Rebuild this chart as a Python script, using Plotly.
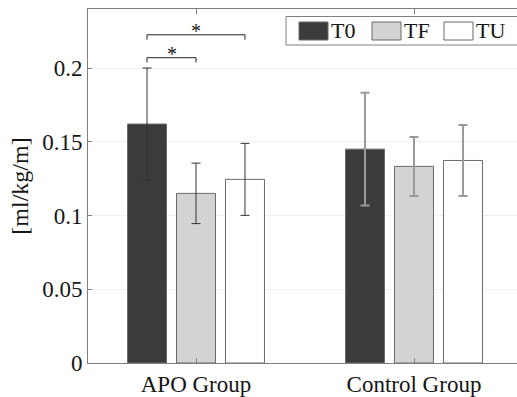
import plotly.graph_objects as go

groups = ["APO Group", "Control Group"]
series = ["T0", "TF", "TU"]
means = {
    "T0": [0.162, 0.145],
    "TF": [0.115, 0.1333],
    "TU": [0.1245, 0.1373],
}
errors = {
    "T0": [0.038, 0.0383],
    "TF": [0.0205, 0.020],
    "TU": [0.0244, 0.024],
}
y_ticks = [0, 0.05, 0.1, 0.15, 0.2]
y_tick_labels = ["0", "0.05", "0.1", "0.15", "0.2"]
# significance: (series a, series b, bracket level, star)
sig_pairs = [("T0", "TF", 0.207, "*"), ("T0", "TU", 0.2225, "*")]

fill = {"T0": "#3b3b3b", "TF": "#d3d3d3", "TU": "#ffffff"}
err_style = [("#333333", 1.0, 4.5), ("#9a9a9a", 2.0, 4.5)]

W, H = 517, 397
ML, MR, MT, MB = 88, 0, 9, 34
FONT = "Liberation Serif, Times New Roman, DejaVu Serif, serif"
TXT = "#151515"
bargap, bargroupgap = 0.326, 0.204

fig = go.Figure()
for gi, g in enumerate(groups):
    ecol, ew, cw = err_style[gi]
    for s in series:
        fig.add_trace(go.Bar(
            x=[g], y=[means[s][gi]], name=s, offsetgroup=s,
            marker=dict(color=fill[s], line=dict(color="#6a6a6a", width=1)),
            error_y=dict(type="data", array=[errors[s][gi]], color=ecol,
                         thickness=ew, width=cw),
            showlegend=False,
        ))

slot = (1 - bargap) / len(series)
def bar_x(gi, s):
    return gi + (series.index(s) - (len(series) - 1) / 2) * slot

shapes = []
annotations = []
for a, b, lvl, star in sig_pairs:
    xa, xb = bar_x(0, a), bar_x(0, b)
    drop = 0.0033
    shapes.append(dict(type="path", xref="x", yref="y",
                       path=f"M {xa},{lvl-drop} L {xa},{lvl} L {xb},{lvl} L {xb},{lvl-drop}",
                       line=dict(color="#222222", width=1)))
    annotations.append(dict(x=(xa + xb) / 2, y=lvl, xref="x", yref="y",
                            text=star, showarrow=False, yanchor="bottom",
                            yshift=-9,
                            font=dict(family=FONT, size=20, color=TXT)))

# custom legend (pixel positions converted to paper coords)
pw, ph = W - ML - MR, H - MT - MB
def px(x):
    return (x - ML) / pw
def py(y):
    return 1 - (y - MT) / ph

shapes.append(dict(type="rect", xref="paper", yref="paper",
                   x0=px(286), x1=px(530), y0=py(45), y1=py(16.5),
                   line=dict(color="#808080", width=1), fillcolor="white"))
leg_x = [299, 372, 444]
for s, lx in zip(series, leg_x):
    shapes.append(dict(type="rect", xref="paper", yref="paper",
                       x0=px(lx), x1=px(lx + 29), y0=py(40), y1=py(22),
                       line=dict(color="#6a6a6a", width=1), fillcolor=fill[s]))
    annotations.append(dict(x=px(lx + 30), y=py(31), xref="paper", yref="paper",
                            text=s, showarrow=False, xanchor="left", yanchor="middle",
                            font=dict(family=FONT, size=22, color=TXT)))

fig.update_layout(
    width=W, height=H,
    margin=dict(l=ML, r=MR, t=MT, b=MB, pad=0),
    paper_bgcolor="white", plot_bgcolor="white",
    barmode="group", bargap=bargap, bargroupgap=bargroupgap,
    font=dict(family=FONT, size=23, color=TXT),
    showlegend=False,
    shapes=shapes, annotations=annotations,
    xaxis=dict(type="category", range=[-0.4954, 1.4725], automargin=False,
               showline=True, linecolor="#808080", linewidth=1,
               mirror="ticks", ticks="inside", ticklen=5, tickcolor="#808080",
               showgrid=False, tickfont=dict(family=FONT, size=23, color=TXT)),
    yaxis=dict(range=[0, 0.24], tickvals=y_ticks, ticktext=y_tick_labels,
               automargin=False,
               showline=True, linecolor="#808080", linewidth=1,
               ticks="inside", ticklen=4, tickcolor="#808080",
               showgrid=True, gridcolor="#f0f0f0", zeroline=False,
               title=dict(text="[ml/kg/m]", standoff=6,
                          font=dict(family=FONT, size=24, color=TXT)),
               tickfont=dict(family=FONT, size=23, color=TXT)),
)

fig.write_html("out.html", config={"displayModeBar": False, "staticPlot": True},
               post_script="document.body.style.margin='0';document.body.style.overflow='hidden';")
